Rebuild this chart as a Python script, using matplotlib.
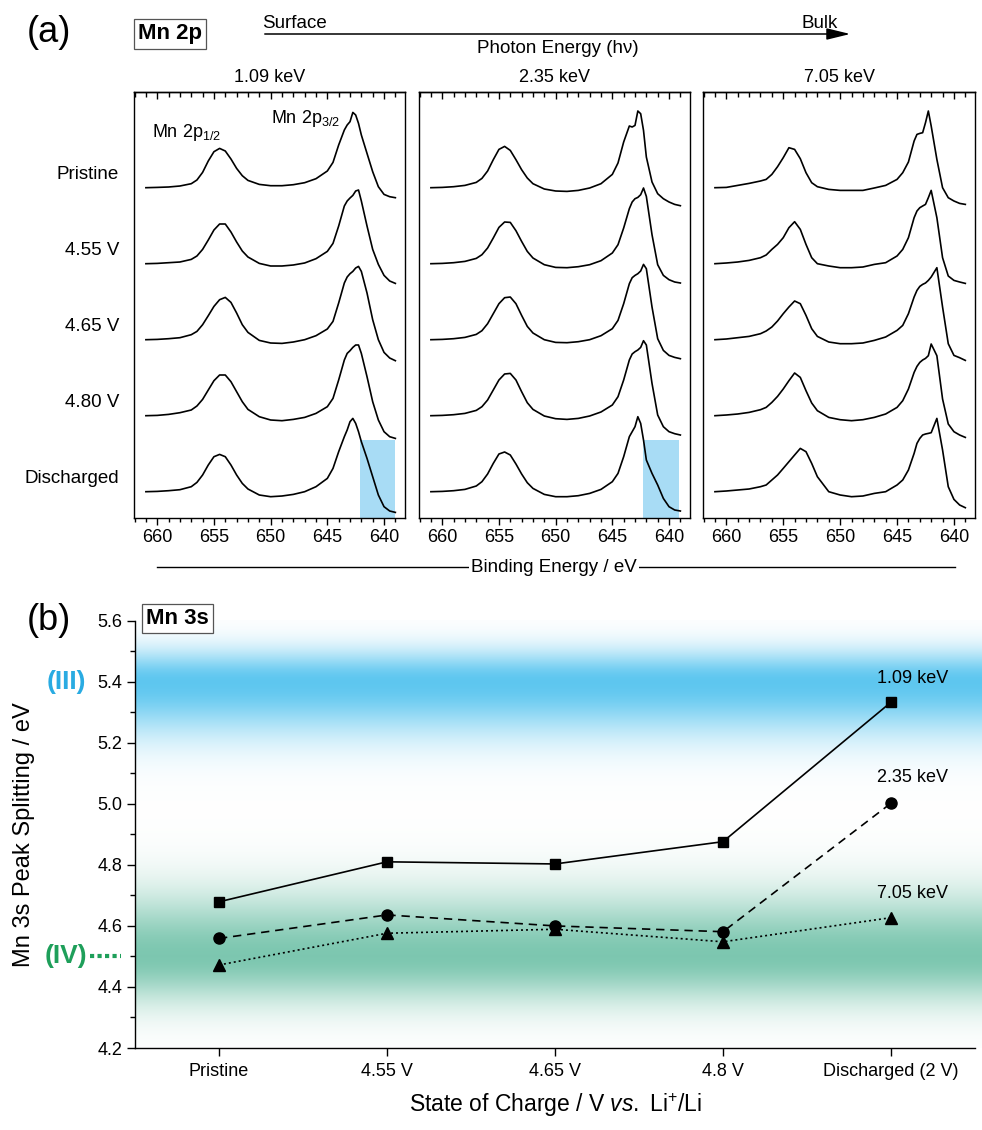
import matplotlib
matplotlib.use("Agg")
import matplotlib.pyplot as plt
import matplotlib.transforms as mtransforms
from matplotlib.patches import FancyArrowPatch
from matplotlib.lines import Line2D
from matplotlib.ticker import MultipleLocator, NullFormatter, FormatStrFormatter
import numpy as np

plt.rcParams['font.family'] = ['Liberation Sans', 'DejaVu Sans']
plt.rcParams['mathtext.fontset'] = 'custom'
plt.rcParams['mathtext.rm'] = 'Liberation Sans'
plt.rcParams['mathtext.it'] = 'Liberation Sans:italic'
plt.rcParams['mathtext.bf'] = 'Liberation Sans:bold'
plt.rcParams['axes.linewidth'] = 1.0

# ---------------- (a) Mn 2p spectra ----------------
photon_energies = ['1.09 keV', '2.35 keV', '7.05 keV']
states = ['Pristine', '4.55 V', '4.65 V', '4.80 V', 'Discharged']

energy = [661, 660, 659, 658, 657, 656.5, 656, 655.5, 655, 654.5, 654, 653.5,
          653, 652.5, 652, 651, 650, 649, 648, 647, 646, 645, 644.5, 644,
          643.5, 643.25, 643, 642.75, 642.5, 642.25, 642, 641.5, 641, 640.5,
          640, 639.5, 639]

# intensity (a.u.), one list per state: Pristine, 4.55, 4.65, 4.80, Discharged
mn2p_109 = [
    [0, 0.3, 0.7, 1.7, 4, 7.7, 15.3, 26.7, 36, 39.3, 36.7, 28.7, 19.3, 12, 7.3, 3.3, 2, 2, 3, 5, 9,
     16.7, 25.3, 42.7, 57.7, 62.7, 66, 75.3, 72.7, 64.3, 52.7, 34.3, 16, 1, -6.7, -9, -10],
    [0, 0.3, 1, 1.7, 4.3, 7.7, 14.3, 23.7, 33.7, 39.7, 39.7, 31.7, 21.7, 12.7, 6.7, 0.3, -2.3, -2.3, -1.3, 0.7, 5,
     12.3, 20.3, 37.7, 57.7, 62.7, 65.7, 68.3, 72.7, 73.7, 62.7, 37.7, 14.3, -0.7, -11.7, -17.3, -19.7],
    [0, 0.3, 1, 2, 5, 8.3, 15, 24, 33.3, 40, 42.3, 37.3, 26.7, 15, 7.3, -0.7, -3.3, -3.7, -2.3, 0, 4,
     10.7, 18.3, 36.7, 56.7, 62.7, 66, 68.3, 71.7, 73.3, 68.3, 46.7, 20, 0, -12.7, -18.3, -21],
    [0, 0.3, 1.3, 3, 5.7, 9.7, 16.3, 25.7, 35, 40.7, 40.7, 34, 24, 14, 6.3, -1, -4.3, -5, -3.7, -1.7, 2.3,
     9, 17.3, 35.7, 55.7, 62.3, 65, 68.3, 70.7, 70.7, 62.3, 39, 14, -4.3, -16, -21, -22.7],
    [0, 0.3, 1, 2, 5, 9.3, 16.7, 26.7, 35, 37.3, 35, 26.7, 16.7, 8.3, 2.7, -3.3, -5, -4.3, -2.7, 0, 5,
     13.3, 23.3, 40, 55, 61.7, 70, 73.3, 68.3, 60, 50, 33.3, 15, -3.3, -15, -19.3, -20.7],
]
mn2p_235 = [
    [0, 0.3, 1, 2.3, 5.3, 9.3, 16.7, 28, 38.3, 41.3, 37.3, 28, 18, 9.7, 4, -1.3, -3.3, -3.7, -2.7, -0.3, 4,
     13.3, 24.7, 45.7, 61.7, 60.7, 62.3, 76.7, 74, 57.3, 30.7, 5.7, -6, -11, -14.3, -16.7, -18],
    [0, 0.3, 1, 2.3, 5.3, 9, 15.7, 25.7, 36.3, 41.7, 41.3, 33, 22.3, 12.3, 5.7, -1, -3.7, -4, -3, -1, 3,
     10.7, 19, 35.7, 55, 61.7, 65, 66.3, 69, 75.7, 67.3, 29, -1, -11.7, -16, -18.3, -19.3],
    [0, 0.3, 1, 2.3, 5.3, 9, 16, 26, 36, 42, 42.7, 36, 24.3, 13.3, 6.7, 0, -2.7, -3, -2, 0, 4,
     11, 19.3, 36, 56, 62, 64.3, 66, 68.7, 75.3, 71, 32.7, 1, -10.7, -15.7, -17.7, -19],
    [0, 0.3, 1, 2.3, 5.3, 9, 15.7, 25.7, 35.7, 41.7, 42.3, 35.7, 24, 13, 6.3, -0.3, -3, -3.7, -2.7, -0.3, 3.7,
     10.7, 19, 35.7, 55.7, 61.7, 64, 65.7, 68.3, 75, 70.7, 32.3, 0.7, -11, -16, -18, -19.3],
    [0, 0.3, 1, 2.3, 5.7, 10, 17.7, 28.3, 37.7, 39.7, 36.7, 27.7, 17.7, 9, 3.3, -2.7, -5, -5, -4, -1.7, 2.3,
     10, 18.3, 35, 55, 60, 65, 75, 68.3, 51.7, 31.7, 18.3, 6.7, -6.7, -15, -18.3, -19.3],
]
mn2p_705 = [
    [0, 0.3, 2.3, 4.3, 6.7, 8.3, 13.3, 21, 30, 40, 38.3, 29, 15, 5, 1, -1.7, -2.7, -2.7, -2.7, -0.3, 2.3,
     8.3, 15, 25.7, 46.7, 53.3, 54.3, 55, 65, 76.7, 61.7, 28.3, 0, -10, -13.3, -15.7, -16.7],
    [0, 0.7, 1.7, 3.3, 6, 8.7, 14.3, 19.3, 26, 36, 42, 34.3, 19.3, 6, 0, -2.3, -4, -4, -3.3, -0.7, 1,
     7.7, 14.3, 26, 46, 52.7, 56, 57.7, 59.3, 66, 73.3, 46, 6, -12.3, -16.7, -18.3, -19.7],
    [0, 0.7, 2, 3.3, 6, 8.7, 12.7, 18.7, 26, 32.7, 38.7, 36, 24.3, 11, 3.3, -2.3, -4, -4, -3.3, -0.7, 2.7,
     9.3, 14.3, 26, 42.7, 49.3, 53.3, 55.3, 56.7, 59.3, 62.7, 72, 32.7, -4, -15.7, -18, -20.7],
    [0, 0.7, 1.7, 3.3, 6, 8.3, 13.3, 19.3, 26.7, 35, 42.7, 38.3, 25, 12.7, 5, -1.7, -4, -5, -4, -1.7, 1.7,
     8.3, 15, 26.7, 43.3, 49.3, 53.3, 55.7, 57.3, 60, 71.7, 60, 16.7, -8.3, -16, -19.3, -21.7],
    [0, 0.7, 1.7, 2.7, 5, 6.7, 11.7, 16.7, 23.3, 30, 36.7, 43.3, 40, 28.3, 15, 0, -3.3, -5, -4.3, -1.7, 0,
     6.7, 11.7, 21.7, 38.3, 48.3, 53.3, 56.7, 57.7, 58.3, 59, 73.3, 41.7, 5, -7.7, -13.3, -16],
]
# highlighted low binding energy tail (eV) for 1.09 and 2.35 keV
tail_109 = (642.1, 639.0)
tail_235 = (642.3, 639.1)

# ---------------- (b) Mn 3s splitting ----------------
soc_labels = ['Pristine', '4.55 V', '4.65 V', '4.8 V', 'Discharged (2 V)']
split_109 = [4.679, 4.810, 4.803, 4.876, 5.333]
split_235 = [4.559, 4.636, 4.600, 4.581, 5.002]
split_705 = [4.472, 4.576, 4.589, 4.548, 4.627]
mn3_ref = 5.4
mn4_ref = 4.5

W, H = 982, 1130
fig = plt.figure(figsize=(W / 100, H / 100), dpi=100)


def px_axes(x0, y0, x1, y1):
    return fig.add_axes([x0 / W, 1 - y1 / H, (x1 - x0) / W, (y1 - y0) / H])


stack = 76.0
offsets = [stack * (len(states) - 1 - i) for i in range(len(states))]
ylo, yhi = -26.3, 399.7

axes_a = [px_axes(134, 92, 405, 518), px_axes(419, 92, 690, 518), px_axes(703, 92, 975, 518)]
for ax, spectra, title, tail in zip(axes_a, [mn2p_109, mn2p_235, mn2p_705],
                                    photon_energies, [tail_109, tail_235, None]):
    if tail is not None:
        ax.axvspan(tail[0], tail[1], ymin=0, ymax=(51.7 - ylo) / (yhi - ylo),
                   color='#A8DCF5', lw=0, zorder=0)
    for spec, off in zip(spectra, offsets):
        ax.plot(energy, np.array(spec) + off, color='k', lw=1.2, solid_joinstyle='round')
    ax.set_xlim(662.05, 638.15)
    ax.set_ylim(ylo, yhi)
    ax.set_yticks([])
    ax.xaxis.set_major_locator(MultipleLocator(5))
    ax.xaxis.set_minor_locator(MultipleLocator(1))
    ax.tick_params(axis='x', which='both', direction='out', labelsize=13, pad=3, width=1.0)
    ax.tick_params(axis='x', which='major', length=5)
    ax.tick_params(axis='x', which='minor', length=3)
    top = ax.secondary_xaxis('top')
    top.xaxis.set_major_locator(MultipleLocator(5))
    top.xaxis.set_minor_locator(MultipleLocator(1))
    top.xaxis.set_major_formatter(NullFormatter())
    top.tick_params(which='both', direction='in', width=1.0)
    top.tick_params(which='major', length=5)
    top.tick_params(which='minor', length=3.5)
    ax.text(0.5, 1 + 10 / 426, title, transform=ax.transAxes, ha='center', va='baseline', fontsize=13)

ax1 = axes_a[0]
trans_rows = mtransforms.blended_transform_factory(ax1.transAxes, ax1.transData)
for name, off in zip(states, offsets):
    ax1.text(-15 / 271, off + 8.7, name, transform=trans_rows, ha='right', va='baseline', fontsize=13.5)
ax1.text(660.5, 354.7, r'Mn 2p$_{1/2}$', ha='left', va='baseline', fontsize=13)
ax1.text(650.0, 368.7, r'Mn 2p$_{3/2}$', ha='left', va='baseline', fontsize=13)

# header of (a)
fig.text(49 / W, 1 - 33 / H, '(a)', fontsize=26, ha='center', va='center')
fig.text(170 / W, 1 - 34 / H, 'Mn 2p', fontsize=16, fontweight='bold', ha='center', va='center',
         bbox=dict(boxstyle='square,pad=0.2', fc='white', ec='#555555', lw=0.9))
fig.add_artist(FancyArrowPatch((262 / W, 1 - 34 / H), (853 / W, 1 - 34 / H), transform=fig.transFigure,
                               arrowstyle='-|>,head_length=0.9,head_width=0.22', mutation_scale=16,
                               lw=1.1, color='k'))
fig.text(262 / W, 1 - 28 / H, 'Surface', fontsize=13.5, ha='left', va='baseline')
fig.text(838 / W, 1 - 28 / H, 'Bulk', fontsize=13.5, ha='right', va='baseline')
fig.text(558 / W, 1 - 53 / H, 'Photon Energy (hν)', fontsize=13.5, ha='center', va='baseline')

fig.add_artist(Line2D([157 / W, 955 / W], [1 - 567 / H, 1 - 567 / H], transform=fig.transFigure,
                      color='k', lw=1.0))
fig.text(554 / W, 1 - 567 / H, 'Binding Energy / eV', fontsize=13.5, ha='center', va='center',
         bbox=dict(boxstyle='square,pad=0.1', fc='white', ec='none'))

# ---------------- (b) ----------------
axb = px_axes(135, 620.7, 975, 1048)
xpos = np.arange(len(soc_labels))

yy = np.linspace(4.2, 5.6, 700)
wb = np.exp(-((yy - mn3_ref) / np.where(yy > mn3_ref, 0.10, 0.17)) ** 2)
wg = np.exp(-((yy - mn4_ref) / np.where(yy > mn4_ref, 0.20, 0.15)) ** 2)
blue = np.array([0.37, 0.78, 0.94])
green = np.array([0.49, 0.78, 0.69])
rgb = 1 - wb[:, None] * (1 - blue) - wg[:, None] * (1 - green)
rgb = np.clip(rgb, 0, 1)[:, None, :]
axb.imshow(rgb, extent=[-0.5, 4.545, 4.2, 5.6], origin='lower', aspect='auto',
           zorder=0, clip_on=False, interpolation='bilinear')

axb.plot(xpos, split_109, color='k', lw=1.2, marker='s', ms=7, zorder=3)
axb.plot(xpos, split_235, color='k', lw=1.2, marker='o', ms=8, dashes=[5, 3.5], zorder=3)
axb.plot(xpos, split_705, color='k', lw=1.2, marker='^', ms=8.5, dashes=[1.2, 1.8], zorder=3)

axb.set_xlim(-0.5, 4.5)
axb.set_ylim(4.2, 5.6)
axb.set_xticks(xpos)
axb.set_xticklabels(soc_labels)
axb.yaxis.set_major_locator(MultipleLocator(0.2))
axb.yaxis.set_minor_locator(MultipleLocator(0.1))
axb.yaxis.set_major_formatter(FormatStrFormatter('%.1f'))
axb.spines['top'].set_visible(False)
axb.spines['right'].set_visible(False)
axb.tick_params(axis='x', which='major', direction='out', length=5.5, width=1.0, labelsize=13, pad=5)
axb.tick_params(axis='y', which='major', direction='out', length=6, width=1.0, labelsize=13, pad=3)
axb.tick_params(axis='y', which='minor', direction='out', length=3.5, width=1.0)

axb.set_ylabel('Mn 3s Peak Splitting / eV', fontsize=17)
axb.yaxis.set_label_coords((35 - 135) / 840, 0.5)
axb.set_xlabel(r'State of Charge / V $\it{vs.}$ Li$^{+}$/Li', fontsize=16.5)
axb.xaxis.set_label_coords(0.5, (1048 - 1091) / 427.3)

axb.text(4.13, 5.409, photon_energies[0], ha='center', va='center', fontsize=13)
axb.text(4.13, 5.085, photon_energies[1], ha='center', va='center', fontsize=13)
axb.text(4.13, 4.705, photon_energies[2], ha='center', va='center', fontsize=13)

trans_b = mtransforms.blended_transform_factory(axb.transAxes, axb.transData)
axb.text((66 - 135) / 840, mn3_ref, '(III)', transform=trans_b, ha='center', va='center',
         fontsize=19, fontweight='bold', color='#29ABE2')
axb.text((66 - 135) / 840, mn4_ref, '(IV)', transform=trans_b, ha='center', va='center',
         fontsize=19, fontweight='bold', color='#1E9F5A')
axb.plot([(90 - 135) / 840, (121 - 135) / 840], [mn4_ref, mn4_ref], transform=trans_b,
         color='#1E9F5A', lw=3.0, dashes=[1.0, 0.8], clip_on=False)

fig.text(49 / W, 1 - 621 / H, '(b)', fontsize=26, ha='center', va='center')
fig.text(177.5 / W, 1 - 618.5 / H, 'Mn 3s', fontsize=16, fontweight='bold', ha='center', va='center',
         bbox=dict(boxstyle='square,pad=0.2', fc='white', ec='#555555', lw=0.9))

fig.savefig('out.png', dpi=100)
